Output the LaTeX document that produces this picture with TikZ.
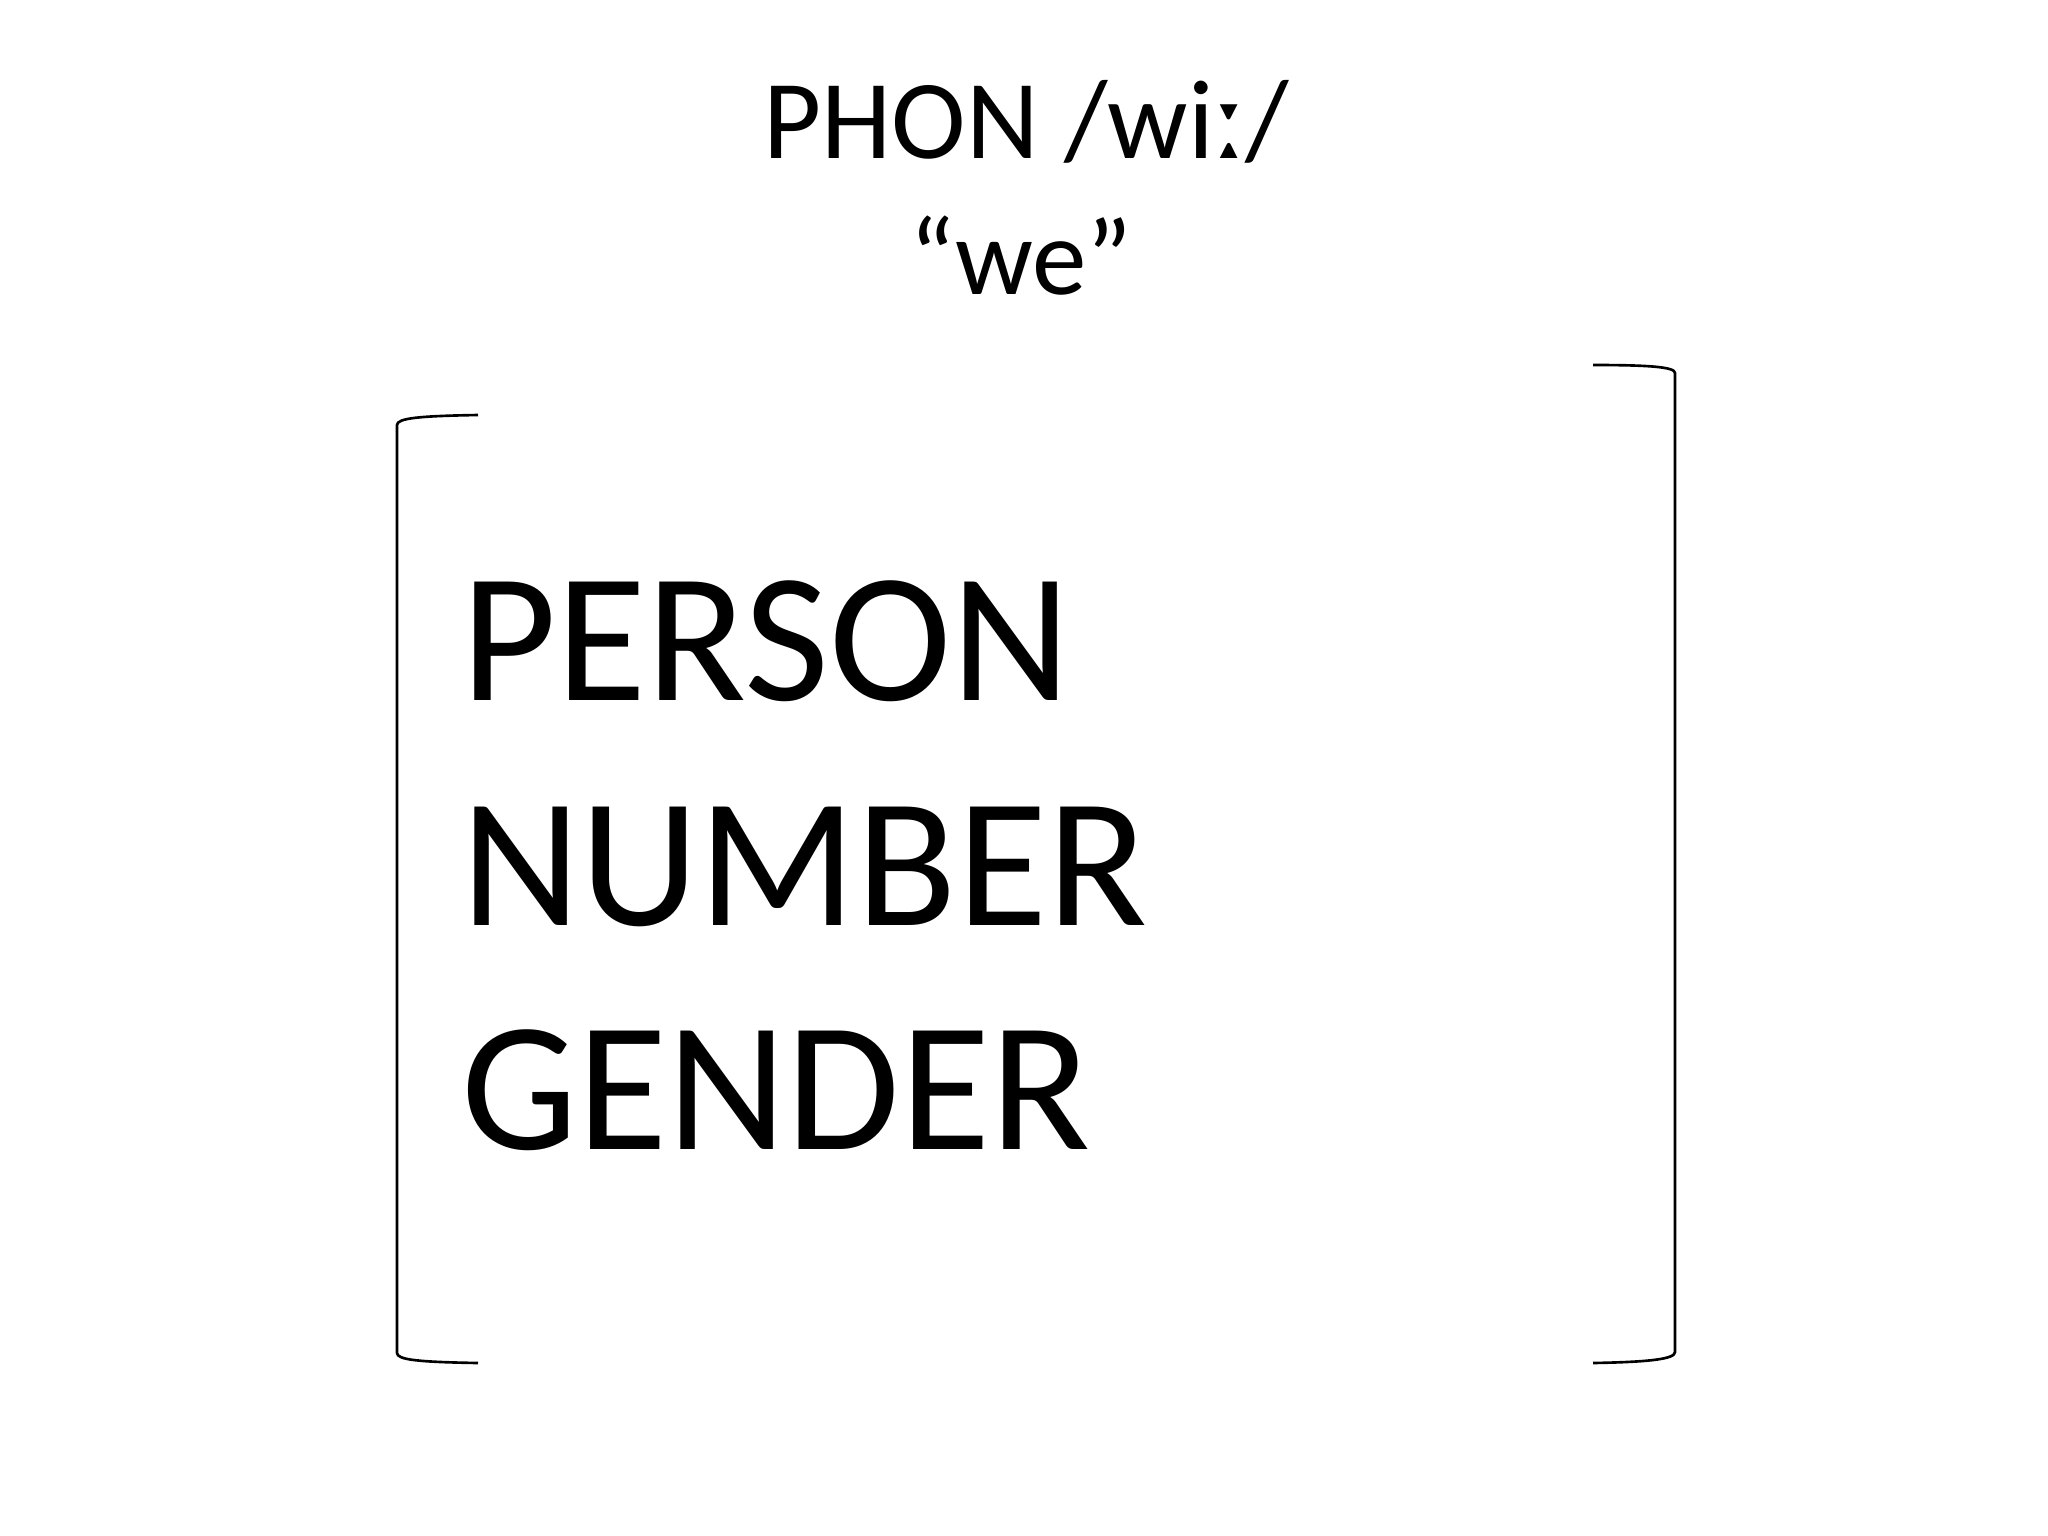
\documentclass[tikz,border=0pt]{standalone}
\usepackage{fontspec}
\setmainfont{Carlito}
\begin{document}
\begin{tikzpicture}[x=0.01cm, y=-0.01cm, line width=0.75pt]
		\useasboundingbox (0,0) rectangle (2048,1536);
		\coordinate (phon) at (1026,158) node[anchor=base, font=\fontsize{32}{32}\selectfont] (phonlabel) at (phon) {PHON /wiː/};
		\coordinate (gloss) at (1021,294) node[anchor=base, font=\fontsize{31}{31}\selectfont] (glosslabel) at (gloss) {“we”};
		\coordinate (P) at (448,700) node[anchor=base west, font=\fontsize{52.5}{52.5}\selectfont] (person) at (P) {PERSON};
		\coordinate (N) at (448,925) node[anchor=base west, font=\fontsize{52.5}{52.5}\selectfont] (number) at (N) {NUMBER};
		\coordinate (G) at (448,1149) node[anchor=base west, font=\fontsize{52.5}{52.5}\selectfont] (gender) at (G) {GENDER};
		% left bracket
		\coordinate (LT) at (478,415);
		\coordinate (LB) at (478,1363);
		\draw (LT) .. controls (420,416) and (397,418) .. (397,425) -- (397,1353) .. controls (397,1360) and (420,1362) .. (LB);
		% right bracket
		\coordinate (RT) at (1593,365);
		\coordinate (RB) at (1593,1363);
		\draw (RT) .. controls (1650,365) and (1675,367) .. (1675,373) -- (1675,1352) .. controls (1675,1359) and (1650,1362) .. (RB);
	\end{tikzpicture}
\end{document}
